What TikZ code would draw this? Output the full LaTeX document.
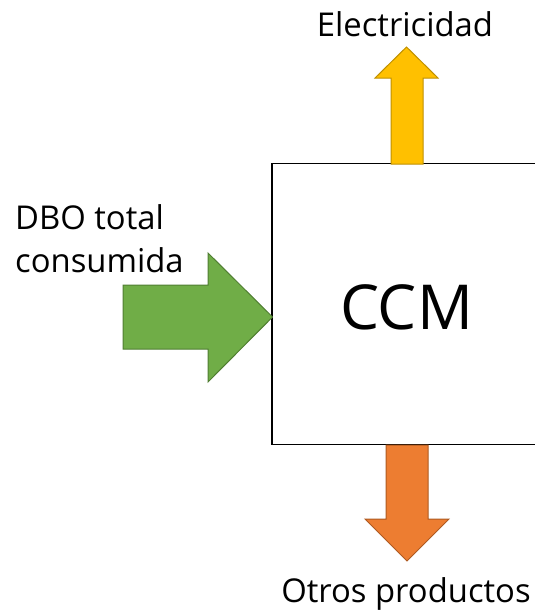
\documentclass[tikz,border=0pt]{standalone}
\usepackage{fontspec}
\setmainfont{Open Sans}
\definecolor{ccmYellow}{HTML}{FFC000}
\definecolor{ccmYellowEdge}{HTML}{BF9000}
\definecolor{ccmGreen}{HTML}{70AD47}
\definecolor{ccmGreenEdge}{HTML}{507E32}
\definecolor{ccmOrange}{HTML}{ED7D31}
\definecolor{ccmOrangeEdge}{HTML}{AE5A21}
\tikzset{
  label text/.style={inner sep=0pt, font=\fontsize{32.8}{38}\selectfont},
  big text/.style={inner sep=0pt, font=\fontsize{62}{72}\selectfont},
  block arrow/.style={line width=1pt, line join=miter},
  reactor/.style={line width=1.6pt, draw=black}
}
\begin{document}
\begin{tikzpicture}[x=1pt,y=-1pt]
\useasboundingbox (0,0) rectangle (535,610);
% reactor outline, open on the right side
\coordinate (boxTR) at (535,163.5);
\coordinate (boxTL) at (272,163.5);
\coordinate (boxBL) at (272,444.5);
\coordinate (boxBR) at (535,444.5);
\draw[reactor] (boxTR) -- (boxTL) -- (boxBL) -- (boxBR);
\node[big text, anchor=base] (ccm) at (406.5,329) {CCM};
% electricity output (up)
\draw[block arrow, fill=ccmYellow, draw=ccmYellowEdge]
  (391,164) -- (391,78) -- (375,78) -- (406.5,47) -- (438,78) -- (423,78) -- (423,164) -- cycle;
\node[label text, anchor=base] (elec) at (405,37) {Electricidad};
% consumed BOD input (right)
\draw[block arrow, fill=ccmGreen, draw=ccmGreenEdge]
  (123,285) -- (208,285) -- (208,253) -- (272.5,317) -- (208,382) -- (208,349) -- (123,349) -- cycle;
\node[label text, anchor=base west] (dbo1) at (15,229) {DBO total};
\node[label text, anchor=base west] (dbo2) at (15,272) {consumida};
% other products output (down)
\draw[block arrow, fill=ccmOrange, draw=ccmOrangeEdge]
  (386,445) -- (428,445) -- (428,519) -- (449,519) -- (407,561) -- (365,519) -- (386,519) -- cycle;
\node[label text, anchor=base] (otros) at (406,602) {Otros productos};
\end{tikzpicture}
\end{document}
